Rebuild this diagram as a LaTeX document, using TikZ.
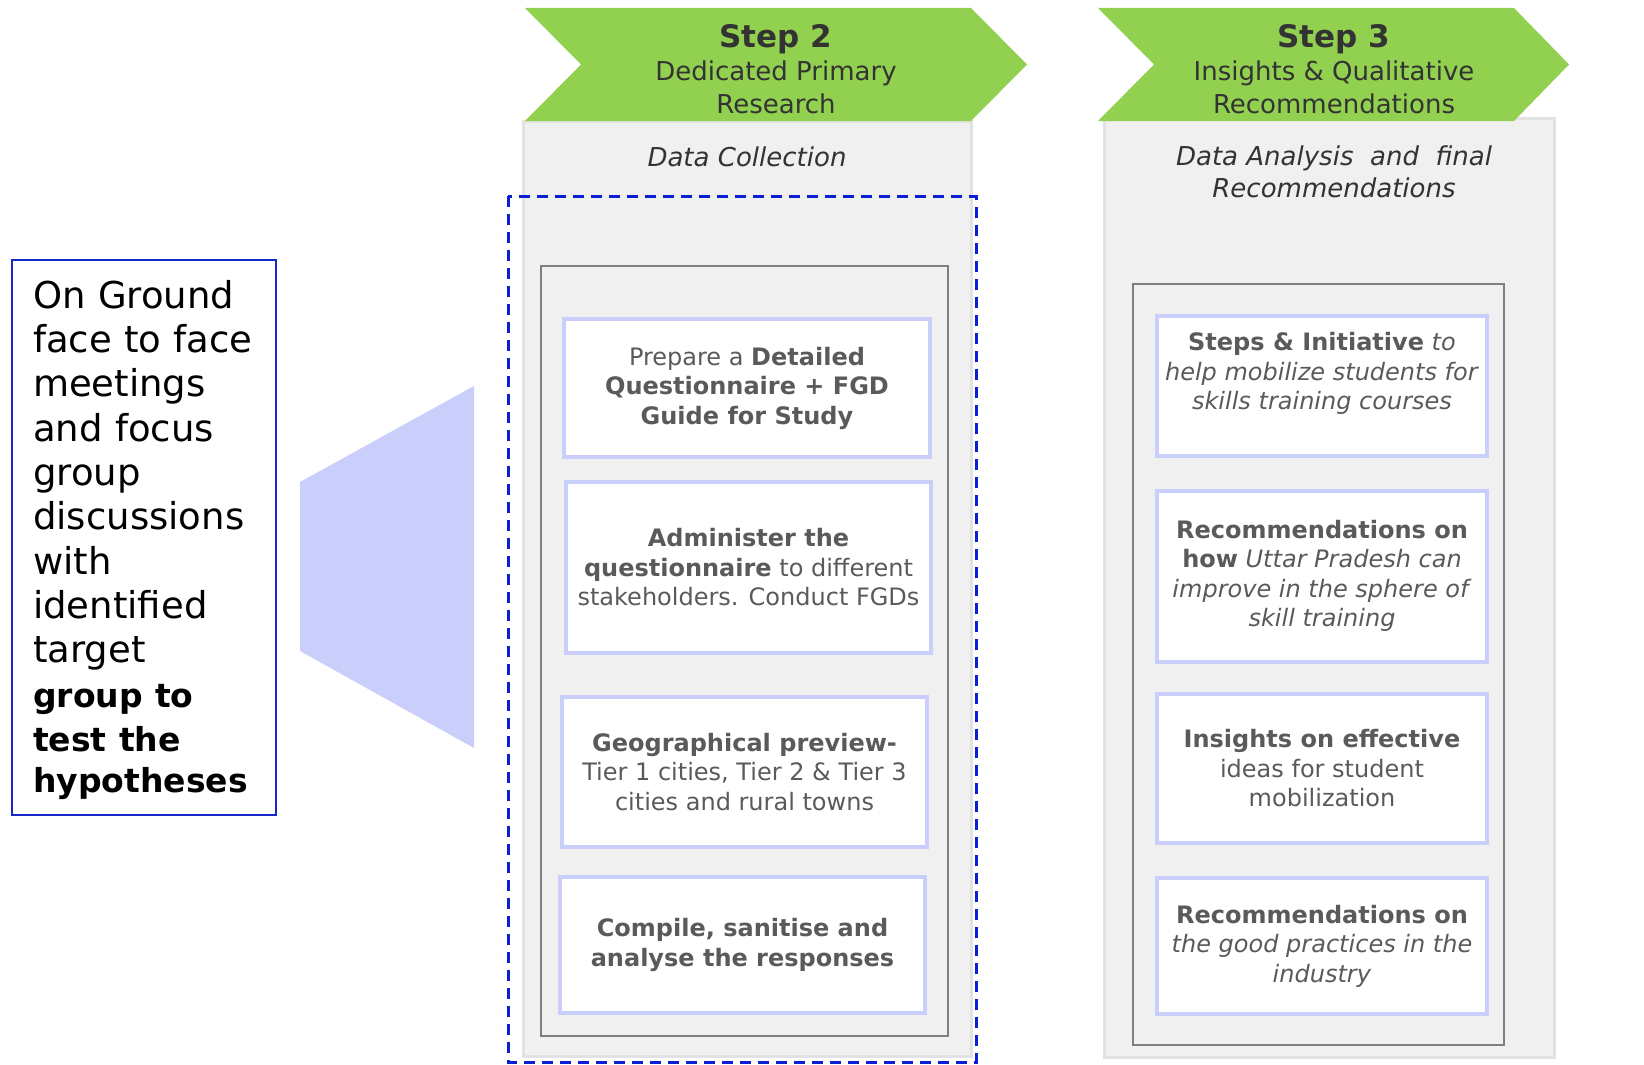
\documentclass[tikz,border=0pt]{standalone}
\usepackage{fontspec}
\setmainfont{DejaVu Sans}
\definecolor{stepgreen}{HTML}{92D050}
\definecolor{panelgray}{HTML}{F0F0F0}
\definecolor{paneledge}{HTML}{E2E2E2}
\definecolor{lav}{HTML}{C9CEFB}
\definecolor{boxedge}{HTML}{C9CEFB}
\definecolor{dashblue}{HTML}{0A1ED2}
\definecolor{leftblue}{HTML}{1428C8}
\definecolor{framegray}{HTML}{7F7F7F}
\definecolor{txtgray}{HTML}{5A5A5A}
\definecolor{titletxt}{HTML}{333333}
\tikzset{
  itembox/.style={draw=boxedge, line width=4pt, fill=white, align=center, text=txtgray, inner sep=0pt},
  itemfont/.style={font=\fontsize{24}{29.5}\selectfont},
  titlebig/.style={text=titletxt, font=\fontsize{31}{36}\selectfont\bfseries, anchor=base, inner sep=0pt},
  titlesub/.style={text=titletxt, font=\fontsize{26}{32}\selectfont, anchor=base, inner sep=0pt},
  phase/.style={text=titletxt, font=\fontsize{26}{32}\selectfont\itshape, anchor=base, inner sep=0pt},
  panel/.style={fill=panelgray, draw=paneledge, line width=3pt},
  chev/.style={fill=stepgreen},
  frame/.style={draw=framegray, line width=2.5pt},
}
\begin{document}
\begin{tikzpicture}[x=1pt,y=-1pt]
\useasboundingbox (0,0) rectangle (1644,1065);
\fill[white] (0,0) rectangle (1644,1065);

% panels
\draw[panel] (523,121) rectangle (971,1056);
\draw[panel] (1104,118) rectangle (1554,1057);

% chevrons
\fill[chev] (525,8) -- (971,8) -- (1027,64.5) -- (971,121) -- (525,121) -- (581,64.5) -- cycle;
\fill[chev] (1098,8) -- (1514,8) -- (1569,64.5) -- (1514,121) -- (1098,121) -- (1154,64.5) -- cycle;

% titles
\node[titlebig] (s2t) at (776,48) {Step 2};
\node[titlesub] (s2a) at (776,81) {Dedicated Primary};
\node[titlesub] (s2b) at (776,113) {Research};
\node[titlebig] (s3t) at (1334,48) {Step 3};
\node[titlesub] (s3a) at (1334,81) {Insights \& Qualitative};
\node[titlesub] (s3b) at (1334,113) {Recommendations};

\node[phase] (p2) at (747,166) {Data Collection};
\node[phase] (p3a) at (1334,165) {Data Analysis\ \ and\ \ final};
\node[phase] (p3b) at (1334,197) {Recommendations};

% inner frames
\draw[frame] (541,266) rectangle (948,1036);
\draw[frame] (1133,284) rectangle (1504,1045);

% dashed frame
\draw[dashblue, line width=3pt, dash pattern=on 11pt off 7pt] (508,196) rectangle (976,1062);

% step 2 boxes
\node[itembox, itemfont, minimum width=366pt, minimum height=138pt] (a1) at (747,388)
  {Prepare a \textbf{Detailed}\\ \textbf{Questionnaire + FGD}\\ \textbf{Guide for Study}};
\node[itembox, itemfont, minimum width=365pt, minimum height=171pt] (a2) at (748.5,567.5)
  {\textbf{Administer the}\\ \textbf{questionnaire} to different\\ stakeholders. Conduct FGDs};
\node[itembox, itemfont, minimum width=365pt, minimum height=150pt] (a3) at (744.5,772)
  {\textbf{Geographical preview-}\\ Tier 1 cities, Tier 2 \& Tier 3\\ cities and rural towns};
\node[itembox, itemfont, minimum width=365pt, minimum height=136pt] (a4) at (742.5,945)
  {\textbf{Compile, sanitise and}\\ \textbf{analyse the responses}};

% step 3 boxes
\node[itembox, itemfont, minimum width=330pt, minimum height=140pt] (b1) at (1322,386)
  {\textbf{Steps \& Initiative} \textit{to}\\ \textit{help mobilize students for}\\ \textit{skills training courses}\\ \mbox{}};
\node[itembox, itemfont, minimum width=330pt, minimum height=171pt] (b2) at (1322,576)
  {\textbf{Recommendations on}\\ \textbf{how} \textit{Uttar Pradesh can}\\ \textit{improve in the sphere of}\\ \textit{skill training}};
\node[itembox, itemfont, minimum width=330pt, minimum height=149pt] (b3) at (1322,768.5)
  {\textbf{Insights on effective}\\ ideas for student\\ mobilization};
\node[itembox, itemfont, minimum width=330pt, minimum height=136pt] (b4) at (1322,946)
  {\textbf{Recommendations on}\\ \textit{the good practices in the}\\ \textit{industry}};

% left box
\draw[leftblue, line width=2.5pt] (12,260) rectangle (276,815);
\node[anchor=north west, inner sep=0pt, text width=240pt, align=left,
      font=\fontsize{37}{44.3}\selectfont] (lt) at (33,280)
  {On Ground\\ face to face\\ meetings\\ and focus\\ group\\ discussions\\ with\\ identified\\ target\\
   \fontsize{33}{44.3}\selectfont\textbf{group to}\\ \textbf{test the}\\[-3.5pt] \textbf{hypotheses}};

% funnel shape
\fill[lav] (300,482) -- (474,386) -- (474,748) -- (300,651) -- cycle;
\end{tikzpicture}
\end{document}
